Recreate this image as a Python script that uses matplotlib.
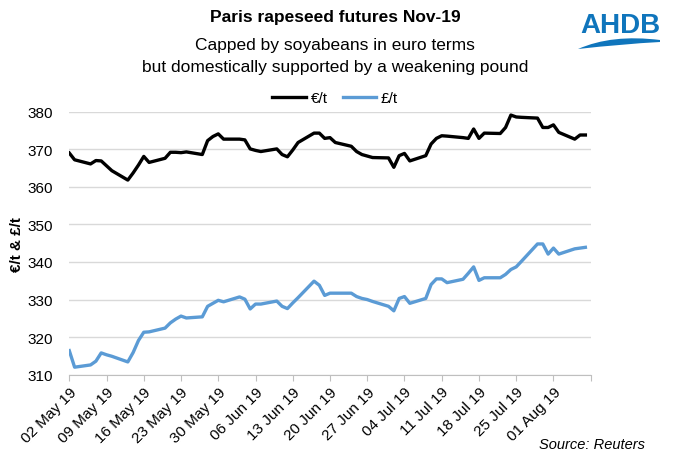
import matplotlib
matplotlib.use("Agg")
import matplotlib.pyplot as plt
from matplotlib.path import Path
from matplotlib.patches import PathPatch
import pandas as pd

plt.rcParams['font.family'] = ['Liberation Sans', 'DejaVu Sans']

# trading days and prices
dates = ["2019-05-02", "2019-05-03", "2019-05-06", "2019-05-07", "2019-05-08", "2019-05-09",
         "2019-05-10", "2019-05-13", "2019-05-14", "2019-05-15", "2019-05-16", "2019-05-17",
         "2019-05-20", "2019-05-21", "2019-05-22", "2019-05-23", "2019-05-24", "2019-05-27",
         "2019-05-28", "2019-05-29", "2019-05-30", "2019-05-31", "2019-06-03", "2019-06-04",
         "2019-06-05", "2019-06-06", "2019-06-07", "2019-06-10", "2019-06-11", "2019-06-12",
         "2019-06-13", "2019-06-14", "2019-06-17", "2019-06-18", "2019-06-19", "2019-06-20",
         "2019-06-21", "2019-06-24", "2019-06-25", "2019-06-26", "2019-06-27", "2019-06-28",
         "2019-07-01", "2019-07-02", "2019-07-03", "2019-07-04", "2019-07-05", "2019-07-08",
         "2019-07-09", "2019-07-10", "2019-07-11", "2019-07-12", "2019-07-15", "2019-07-16",
         "2019-07-17", "2019-07-18", "2019-07-19", "2019-07-22", "2019-07-23", "2019-07-24",
         "2019-07-25", "2019-07-26", "2019-07-29", "2019-07-30", "2019-07-31", "2019-08-01",
         "2019-08-02", "2019-08-05", "2019-08-06", "2019-08-07"]

eur = [369.0, 367.2, 366.1, 367.0, 366.9, 365.6,
       364.3, 361.8, 363.7, 365.8, 368.1, 366.5,
       367.6, 369.2, 369.2, 369.1, 369.3, 368.6,
       372.3, 373.4, 374.1, 372.7, 372.7, 372.5,
       370.1, 369.7, 369.4, 370.1, 368.6, 368.0,
       369.8, 371.8, 374.3, 374.3, 372.9, 373.1,
       371.8, 370.8, 369.4, 368.6, 368.2, 367.8,
       367.7, 365.2, 368.3, 368.9, 366.9, 368.3,
       371.4, 372.9, 373.6, 373.5, 373.1, 372.9,
       375.4, 372.9, 374.3, 374.2, 375.8, 379.1,
       378.6, 378.5, 378.3, 375.8, 375.8, 376.5,
       374.5, 372.7, 373.8, 373.8]

gbp = [316.4, 312.0, 312.6, 313.6, 315.8, 315.3,
       314.9, 313.4, 315.9, 319.1, 321.3, 321.4,
       322.4, 323.8, 324.8, 325.6, 325.1, 325.4,
       328.2, 329.0, 329.8, 329.4, 330.7, 330.1,
       327.5, 328.8, 328.8, 329.6, 328.2, 327.6,
       329.1, 330.5, 334.9, 333.8, 331.1, 331.7,
       331.7, 331.7, 330.8, 330.3, 330.0, 329.5,
       328.2, 327.0, 330.3, 330.8, 329.0, 330.3,
       334.0, 335.5, 335.5, 334.5, 335.4, 337.0,
       338.7, 335.1, 335.8, 335.8, 336.7, 338.0,
       338.7, 340.2, 344.8, 344.8, 342.1, 343.7,
       342.1, 343.5, 343.7, 343.9]

tick_dates = pd.date_range("2019-05-02", "2019-08-08", freq="7D")
tick_labels = [d.strftime("%d %b %y") for d in tick_dates[:-1]] + [""]
yticks = [310, 320, 330, 340, 350, 360, 370, 380]

x = pd.to_datetime(dates)

fig = plt.figure(figsize=(6.74, 4.64), dpi=100)
ax = fig.add_axes([0.1028, 0.1903, 0.7736, 0.5668])

ax.plot(x, eur, color="black", lw=2.4, label="€/t", solid_joinstyle="round")
ax.plot(x, gbp, color="#5B9BD5", lw=2.4, label="£/t", solid_joinstyle="round")

ax.set_xlim(tick_dates[0], tick_dates[-1])
ax.set_ylim(310, 380)
ax.set_yticks(yticks)
ax.grid(axis="y", color="#d9d9d9", lw=1)
ax.set_axisbelow(True)
for s in ["top", "right", "left"]:
    ax.spines[s].set_visible(False)
ax.spines["bottom"].set_color("#bfbfbf")
ax.spines["bottom"].set_zorder(0)

ax.set_xticks(tick_dates)
ax.set_xticklabels(tick_labels, rotation=45, ha="right", rotation_mode="anchor")
ax.tick_params(axis="x", length=4, color="#bfbfbf", labelsize=11, pad=3)
ax.tick_params(axis="y", length=0, labelsize=11, pad=12)

ax.set_ylabel("€/t & £/t", fontsize=11, fontweight="bold")
ax.yaxis.set_label_coords(-0.086, 0.5)

ax.legend(loc="lower center", bbox_to_anchor=(0.51, 0.99), ncol=2, frameon=False,
          fontsize=11, handlelength=2.2, handletextpad=0.3, columnspacing=1.0,
          borderpad=0.1)

fig.text(0.497, 0.962, "Paris rapeseed futures Nov-19", ha="center", va="center",
         fontsize=12.5, fontweight="bold")
fig.text(0.497, 0.903, "Capped by soyabeans in euro terms", ha="center", va="center",
         fontsize=12.5)
fig.text(0.497, 0.855, "but domestically supported by a weakening pound", ha="center",
         va="center", fontsize=12.5)
fig.text(0.957, 0.04, "Source: Reuters", ha="right", va="center", fontsize=10.5,
         style="italic")

# AHDB logo
fig.text(0.92, 0.945, "AHDB", ha="center", va="center", fontsize=20, fontweight="bold",
         color="#0F75BC")
W, H = 674.0, 464.0
pts = [(578, 50), (612, 35), (660, 41), (660, 43), (622, 45), (578, 50)]
codes = [Path.MOVETO, Path.CURVE3, Path.CURVE3, Path.LINETO, Path.CURVE3, Path.CURVE3]
verts = [(px / W, 1 - py / H) for px, py in pts]
fig.patches.append(PathPatch(Path(verts, codes), transform=fig.transFigure,
                             facecolor="#0F75BC", edgecolor="none"))

fig.savefig("out.png", dpi=100)
